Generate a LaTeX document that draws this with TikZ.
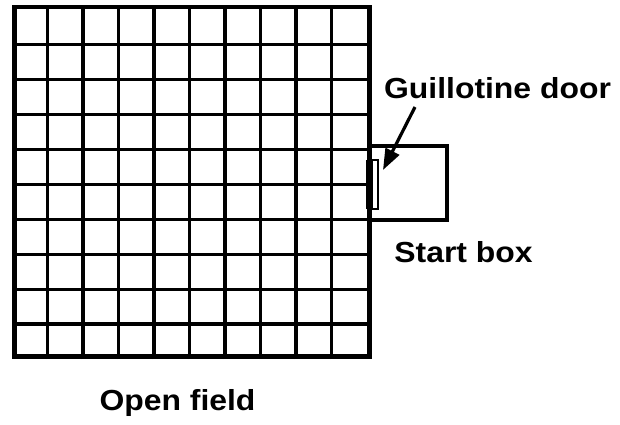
\documentclass[tikz,border=0pt]{standalone}
\usepackage{fontspec}
\newfontfamily\lblfont{Liberation Sans}[FakeStretch=1.1]
\usetikzlibrary{arrows.meta}
\begin{document}
\begin{tikzpicture}[x=1pt,y=1pt,
  gridline/.style={line width=3.2pt},
  border/.style={line width=4.8pt},
  boxline/.style={line width=4.2pt},
  doorbox/.style={draw,line width=1.8pt,fill=white,inner sep=0pt,minimum width=5.5pt,minimum height=49pt},
  lbl/.style={font=\lblfont\bfseries\fontsize{29}{31}\selectfont,inner sep=0pt,anchor=base},
  pointer/.style={line width=3.2pt,-{Triangle[length=21pt,width=15pt]}}]
\useasboundingbox (0,0) rectangle (620,424);
% open field grid
\foreach \i in {1,...,9}{
  \draw[gridline] ({12+35.5*\i},65) -- ({12+35.5*\i},414.5);
  \draw[gridline] (12,{65+34.95*\i}) -- (367,{65+34.95*\i});
}
\node[draw,border,minimum width=355pt,minimum height=349.5pt,inner sep=0pt,anchor=south west] (field) at (12,65) {};
% start box
\node[draw,boxline,minimum width=78pt,minimum height=74pt,inner sep=0pt,anchor=south west] (start) at (367,202) {};
% guillotine door
\node[doorbox] (door) at (375.2,239.5) {};
\fill (366,215) rectangle (372,264);
% labels
\node[lbl] (glabel) at (497.5,326) {Guillotine door};
\node[lbl] (slabel) at (463.5,162) {Start box};
\node[lbl] (olabel) at (177.5,14) {Open field};
\coordinate (arrstart) at (415,317);
\coordinate (arrtip) at (383,254);
\draw[pointer] (arrstart) -- (arrtip);
\end{tikzpicture}
\end{document}
